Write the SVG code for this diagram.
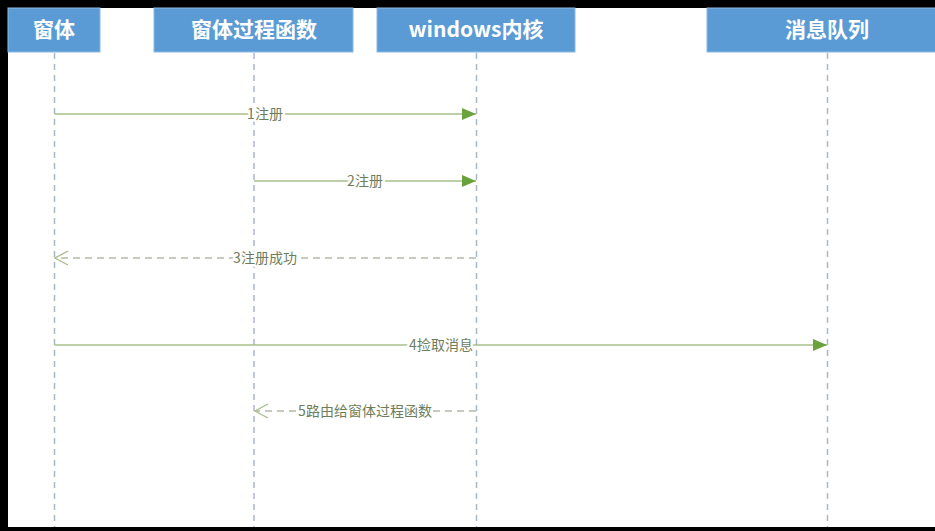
<svg xmlns="http://www.w3.org/2000/svg" width="935" height="531" viewBox="0 0 935 531">
<defs>
<style>
.box{fill:#5b9bd5;stroke:#8cb8e2;stroke-width:1}
.bt{fill:#ffffff;font-family:"Noto Sans CJK SC","Noto Sans",sans-serif;font-size:21px;font-weight:bold;text-anchor:middle}
.life{stroke:#a9b7c9;stroke-width:1.5;stroke-dasharray:6 5;fill:none}
.msg{stroke:#a8be8a;stroke-width:1.6;fill:none}
.ret{stroke:#b4bbab;stroke-width:1.4;stroke-dasharray:7 5;fill:none}
.lbl{fill:#6d7d5c;font-family:"Noto Sans CJK SC","Noto Sans",sans-serif;font-size:14px;text-anchor:middle;paint-order:stroke;stroke:#ffffff;stroke-width:5px;stroke-linejoin:round}
</style>
<marker id="fill" markerWidth="14" markerHeight="12" refX="14" refY="6" orient="auto" markerUnits="userSpaceOnUse">
<path d="M0,0 L14,6 L0,12 Z" fill="#6aa23e"/>
</marker>
<marker id="open" markerWidth="16" markerHeight="16" refX="14" refY="8" orient="auto" markerUnits="userSpaceOnUse">
<path d="M1,1 L14,8 L1,15" fill="none" stroke="#a8be8a" stroke-width="1.4"/>
</marker>
</defs>
<rect x="0" y="0" width="935" height="531" fill="#000000"/>
<rect x="8" y="8" width="927" height="519" fill="#ffffff"/>

<g id="lifelines">
<line class="life" x1="54.5" y1="53" x2="54.5" y2="527"/>
<line class="life" x1="254" y1="53" x2="254" y2="527"/>
<line class="life" x1="476.5" y1="53" x2="476.5" y2="527"/>
<line class="life" x1="827.5" y1="53" x2="827.5" y2="527"/>
</g>

<g id="node-window">
<rect class="box" x="8" y="8" width="92" height="44"/>
<text class="bt" x="54" y="37">窗体</text>
</g>
<g id="node-wndproc">
<rect class="box" x="154" y="8" width="199" height="44"/>
<text class="bt" x="254" y="37">窗体过程函数</text>
</g>
<g id="node-kernel">
<rect class="box" x="377" y="8" width="198" height="44"/>
<text class="bt" x="476" y="37">windows内核</text>
</g>
<g id="node-queue">
<rect class="box" x="707" y="8" width="230" height="44"/>
<text class="bt" x="827" y="37">消息队列</text>
</g>

<g id="connectors">
<line class="msg" x1="54.5" y1="114" x2="476" y2="114" marker-end="url(#fill)"/>
<text class="lbl" x="265" y="119">1注册</text>
<line class="msg" x1="254" y1="181" x2="476" y2="181" marker-end="url(#fill)"/>
<text class="lbl" x="365" y="186">2注册</text>
<line class="ret" x1="476" y1="258" x2="55" y2="258" marker-end="url(#open)"/>
<text class="lbl" x="265" y="263">3注册成功</text>
<line class="msg" x1="54.5" y1="345" x2="827" y2="345" marker-end="url(#fill)"/>
<text class="lbl" x="441" y="350">4捡取消息</text>
<line class="ret" x1="476" y1="411" x2="255" y2="411" marker-end="url(#open)"/>
<text class="lbl" x="365" y="416">5路由给窗体过程函数</text>
</g>
</svg>
